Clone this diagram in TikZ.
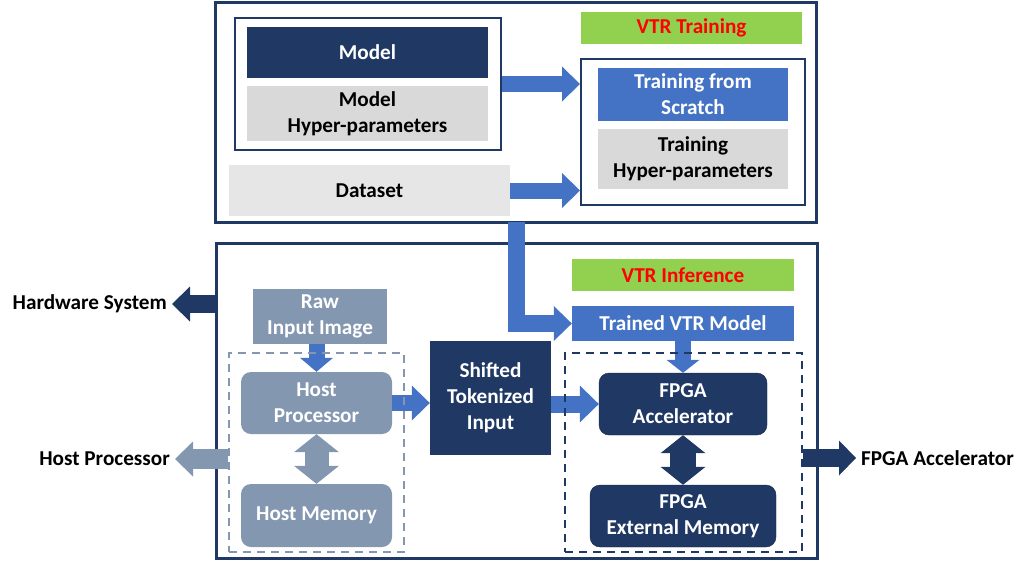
\documentclass[tikz,border=0pt]{standalone}
\usepackage{fontspec}
\setmainfont{Carlito}
\usetikzlibrary{arrows.meta}
\definecolor{navy}{HTML}{203864}
\definecolor{vtrblue}{HTML}{4472C4}
\definecolor{slate}{HTML}{8497B0}
\definecolor{lgray}{HTML}{D9D9D9}
\definecolor{pgray}{HTML}{E7E6E6}
\definecolor{lime}{HTML}{92D050}
\begin{document}
\begin{tikzpicture}[x=1pt,y=-1pt,
  every node/.style={font=\bfseries\fontsize{21.2}{26}\selectfont,align=center,inner sep=0pt},
  frame/.style={draw=navy,line width=#1},
  dashbox/.style={draw=#1,line width=2pt,dash pattern=on 8pt off 6pt},
  darkbox/.style={fill=navy,text=white},
  bluebox/.style={fill=vtrblue,text=white},
  slatebox/.style={fill=slate,text=white},
  tagbox/.style={fill=lime,text=red},
  fat/.style={line width=#1,line join=miter},
  one/.style={-{Triangle[length=18pt,width=35pt,line width=0pt]}},
  two/.style={{Triangle[length=18pt,width=45pt,line width=0pt]}-{Triangle[length=18pt,width=45pt,line width=0pt]}}]
  \useasboundingbox (0,0) rectangle (1017,560);

  % Training part.
  \node[frame=3pt,minimum width=601,minimum height=220] (topbox) at (515.5,112) {};
  \node[frame=2pt,minimum width=266,minimum height=132] (modelgrp) at (368,84) {};
  \node[darkbox,minimum width=241,minimum height=51] (model) at (367.5,52.5) {Model};
  \node[fill=lgray,minimum width=241,minimum height=55] (modelhp) at (367.5,113.5) {Model\\Hyper-parameters};
  \node[fill=pgray,minimum width=281,minimum height=51] (dataset) at (369.5,190.5) {Dataset};
  \node[tagbox,minimum width=221,minimum height=32] (vtrtrain) at (691.5,28) {VTR Training};
  \node[frame=2pt,minimum width=224,minimum height=146] (trainbox) at (693,132) {};
  \node[bluebox,minimum width=190,minimum height=53] (scratch) at (693,94.5) {Training from\\Scratch};
  \node[fill=lgray,minimum width=190,minimum height=60] (trainhp) at (693,159) {Training\\Hyper-parameters};

  \draw[vtrblue,fat=16pt,one] (modelgrp.east) -- (modelgrp.east -| trainbox.west);
  \draw[vtrblue,fat=16pt,one] (dataset.east) -- (dataset.east -| trainbox.west);

  % Inference part.
  \node[frame=3pt,minimum width=601,minimum height=315] (botbox) at (516.5,400.5) {};
  \node[tagbox,minimum width=222,minimum height=32] (vtrinf) at (683,275) {VTR Inference};
  \node[bluebox,minimum width=222,minimum height=35] (trained) at (683,323.5) {Trained VTR Model};
  \node[slatebox,minimum width=134,minimum height=55] (raw) at (320,316.5) {Raw\\Input Image};
  \node[slatebox,rounded corners=10pt,minimum width=151,minimum height=62] (hostproc) at (316.5,403) {Host\\Processor};
  \node[slatebox,rounded corners=10pt,minimum width=151,minimum height=63] (hostmem) at (316.5,515.5) {Host Memory};
  \node[darkbox,minimum width=121,minimum height=114] (shifted) at (490.5,398) {Shifted\\Tokenized\\Input};
  \node[darkbox,draw=navy!70!black,rounded corners=10pt,minimum width=168,minimum height=62] (fpga) at (683,404) {FPGA\\Accelerator};
  \node[darkbox,draw=navy!70!black,rounded corners=10pt,minimum width=186,minimum height=62] (extmem) at (683,516) {FPGA\\External Memory};
  \coordinate (vtrout) at (516.5,222);

  \draw[vtrblue,fat=17pt,one] (vtrout) |- (trained.west);
  \draw[vtrblue,fat=16pt,-{Triangle[length=14pt,width=33pt,line width=0pt]}] (raw.south -| hostproc.north) -- (hostproc.north);
  \draw[vtrblue,fat=16pt,one] (hostproc.east) -- (hostproc.east -| shifted.west);
  \draw[vtrblue,fat=17pt,-{Triangle[length=19pt,width=37pt,line width=0pt]}] (shifted.east |- fpga.west) -- (fpga.west);
  \draw[vtrblue,fat=16pt,-{Triangle[length=13pt,width=33pt,line width=0pt]}] (trained.south) -- (fpga.north);
  \draw[slate,fat=24pt,two] (hostproc.south) -- (hostmem.north);
  \draw[navy,fat=26pt,two] (fpga.south) -- (extmem.north);

  % Dashed groups.
  \node[dashbox=slate,minimum width=175,minimum height=199] (lgroup) at (316.5,452.5) {};
  \node[dashbox=navy,minimum width=237,minimum height=199] (rgroup) at (683.5,452.5) {};

  % Side labels.
  \node[anchor=east,inner xsep=5pt] (hwlabel) at (172,304) {Hardware System};
  \node[anchor=east,inner xsep=5pt] (hplabel) at (175,459) {Host Processor};
  \node[anchor=west,inner xsep=5pt] (fpgalabel) at (856,458) {FPGA Accelerator};
  \draw[navy,fat=18pt,one] (botbox.west |- hwlabel) -- (hwlabel.east);
  \draw[slate,fat=20pt,one] (lgroup.west |- hplabel) -- (hplabel.east);
  \draw[navy,fat=18pt,-{Triangle[length=17pt,width=35pt,line width=0pt]}] (rgroup.east |- fpgalabel) -- (fpgalabel.west);
\end{tikzpicture}
\end{document}
